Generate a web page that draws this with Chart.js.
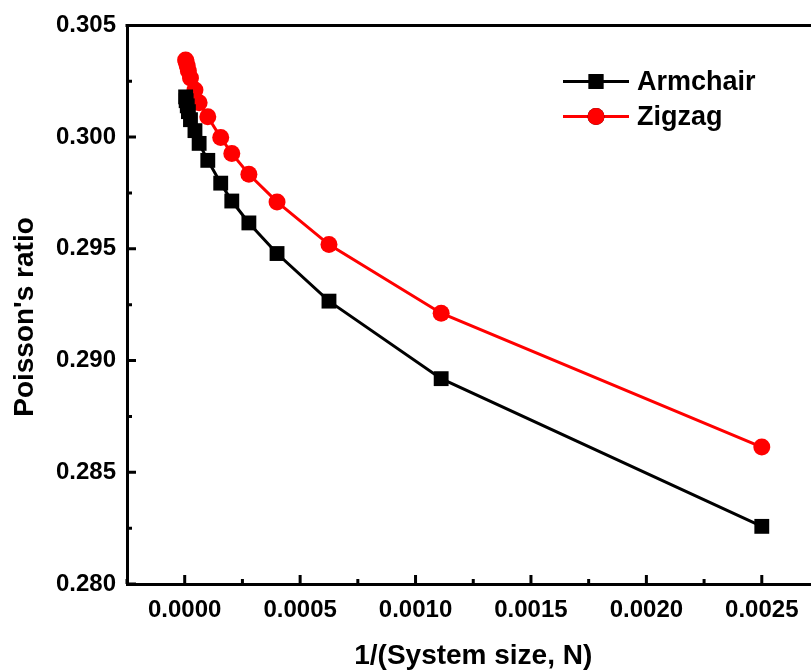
<!DOCTYPE html>
<html>
<head>
<meta charset="utf-8">
<script src="https://cdn.jsdelivr.net/npm/chart.js@4.4.0/dist/chart.umd.min.js"></script>
<style>
    html, body { margin: 0; padding: 0; background: #fff; overflow: hidden; }
    #wrap { width: 811px; height: 672px; overflow: hidden; }
    canvas { display: block; }
</style>
</head>
<body>
<div id="wrap"><canvas id="poissonChart" width="830" height="672"></canvas></div>
<script>
// 1/(system size) values shared by both series
const inverseSize = [0.0000040, 0.0000063, 0.0000111, 0.000016, 0.000025, 0.0000444, 0.0000625,
    0.0001, 0.000156, 0.000204, 0.000278, 0.0004, 0.000625, 0.001111, 0.0025];
const armchairRatio = [0.30180, 0.30163, 0.30140, 0.30114, 0.30078, 0.30029, 0.29972,
    0.29896, 0.29794, 0.29714, 0.29616, 0.29479, 0.29266, 0.28919, 0.28258];
const zigzagRatio = [0.30345, 0.30336, 0.30318, 0.30296, 0.30265, 0.30211, 0.30154,
    0.30091, 0.29998, 0.29927, 0.29834, 0.29710, 0.29519, 0.29212, 0.28613];

const xMajorTicks = [0, 0.0005, 0.001, 0.0015, 0.002, 0.0025];
const xMinorTicks = [-0.00025, 0.00025, 0.00075, 0.00125, 0.00175, 0.00225, 0.00275];
const yMajorTicks = [0.280, 0.285, 0.290, 0.295, 0.300, 0.305];
const yMinorTicks = [0.2825, 0.2875, 0.2925, 0.2975, 0.3025];

const FONT = '"Liberation Sans", Arial, sans-serif';

function toPoints(ys) {
    return inverseSize.map((x, i) => ({ x: x, y: ys[i] }));
}

// inward tick marks, top frame line, axis titles and legend
const framePlugin = {
    id: 'frame',
    afterDraw(chart) {
        const ctx = chart.ctx;
        const area = chart.chartArea;
        const xs = chart.scales.x;
        const ys = chart.scales.y;
        ctx.save();
        ctx.strokeStyle = '#000';
        ctx.lineWidth = 3;
        ctx.lineCap = 'butt';

        // top line
        ctx.beginPath();
        ctx.moveTo(area.left - 1.5, area.top);
        ctx.lineTo(area.right + 1.5, area.top);
        ctx.stroke();

        ctx.beginPath();
        xMajorTicks.forEach(v => {
            const px = xs.getPixelForValue(v);
            ctx.moveTo(px, area.bottom);
            ctx.lineTo(px, area.bottom - 9);
        });
        xMinorTicks.forEach(v => {
            const px = xs.getPixelForValue(v);
            ctx.moveTo(px, area.bottom);
            ctx.lineTo(px, area.bottom - 5);
        });
        yMajorTicks.forEach(v => {
            const py = ys.getPixelForValue(v);
            ctx.moveTo(area.left, py);
            ctx.lineTo(area.left + 9, py);
        });
        yMinorTicks.forEach(v => {
            const py = ys.getPixelForValue(v);
            ctx.moveTo(area.left, py);
            ctx.lineTo(area.left + 5, py);
        });
        ctx.stroke();

        // axis titles
        ctx.fillStyle = '#000';
        ctx.font = 'bold 28px ' + FONT;
        ctx.textAlign = 'center';
        ctx.textBaseline = 'alphabetic';
        ctx.fillText('1/(System size, N)', (area.left + area.right) / 2, 664);

        ctx.save();
        ctx.translate(33, 317);
        ctx.rotate(-Math.PI / 2);
        ctx.fillText("Poisson's ratio", 0, 0);
        ctx.restore();

        // legend
        const rows = [{ ds: chart.data.datasets[0], y: 81.5 }, { ds: chart.data.datasets[1], y: 116.5 }];
        rows.forEach(row => {
            const ds = row.ds;
            ctx.strokeStyle = ds.borderColor;
            ctx.lineWidth = 3;
            ctx.beginPath();
            ctx.moveTo(563, row.y);
            ctx.lineTo(629, row.y);
            ctx.stroke();
            Chart.helpers.drawPoint(ctx, {
                pointStyle: ds.pointStyle,
                radius: ds.pointRadius,
                rotation: 0,
                borderWidth: 0
            }, 596, row.y);
            ctx.fillStyle = ds.pointBackgroundColor;
            ctx.fill();
            ctx.fillStyle = '#000';
            ctx.font = 'bold 27px ' + FONT;
            ctx.textAlign = 'left';
            ctx.textBaseline = 'middle';
            ctx.fillText(ds.label, 637, row.y + 1);
        });
        ctx.restore();
    }
};

new Chart(document.getElementById('poissonChart'), {
    type: 'line',
    data: {
        datasets: [{
            label: 'Armchair',
            data: toPoints(armchairRatio),
            borderColor: '#000000',
            backgroundColor: '#000000',
            pointBackgroundColor: '#000000',
            pointBorderWidth: 0,
            pointStyle: 'rect',
            pointRadius: 10.5,
            borderWidth: 3,
            tension: 0
        }, {
            label: 'Zigzag',
            data: toPoints(zigzagRatio),
            borderColor: '#ff0000',
            backgroundColor: '#ff0000',
            pointBackgroundColor: '#ff0000',
            pointBorderWidth: 0,
            pointStyle: 'circle',
            pointRadius: 8.5,
            borderWidth: 3,
            tension: 0
        }]
    },
    options: {
        responsive: false,
        animation: false,
        clip: false,
        layout: { padding: { top: 21, right: 10, left: 0, bottom: 0 } },
        plugins: {
            legend: { display: false },
            tooltip: { enabled: false }
        },
        scales: {
            x: {
                type: 'linear',
                min: -0.00025,
                max: 0.00275,
                afterBuildTicks: scale => { scale.ticks = xMajorTicks.map(v => ({ value: v })); },
                afterFit: scale => { scale.height = 88; },
                grid: { display: false, drawTicks: false },
                border: { display: true, color: '#000', width: 3 },
                ticks: {
                    color: '#000',
                    padding: 12,
                    maxRotation: 0,
                    font: { family: FONT, size: 24, weight: 'bold' },
                    callback: v => v.toFixed(4)
                }
            },
            y: {
                type: 'linear',
                min: 0.280,
                max: 0.305,
                afterBuildTicks: scale => { scale.ticks = yMajorTicks.map(v => ({ value: v })); },
                afterFit: scale => { scale.width = 127; },
                grid: { display: false, drawTicks: false },
                border: { display: true, color: '#000', width: 3 },
                ticks: {
                    color: '#000',
                    padding: 11,
                    font: { family: FONT, size: 24, weight: 'bold' },
                    callback: v => v.toFixed(3)
                }
            }
        }
    },
    plugins: [framePlugin]
});
</script>
</body>
</html>
